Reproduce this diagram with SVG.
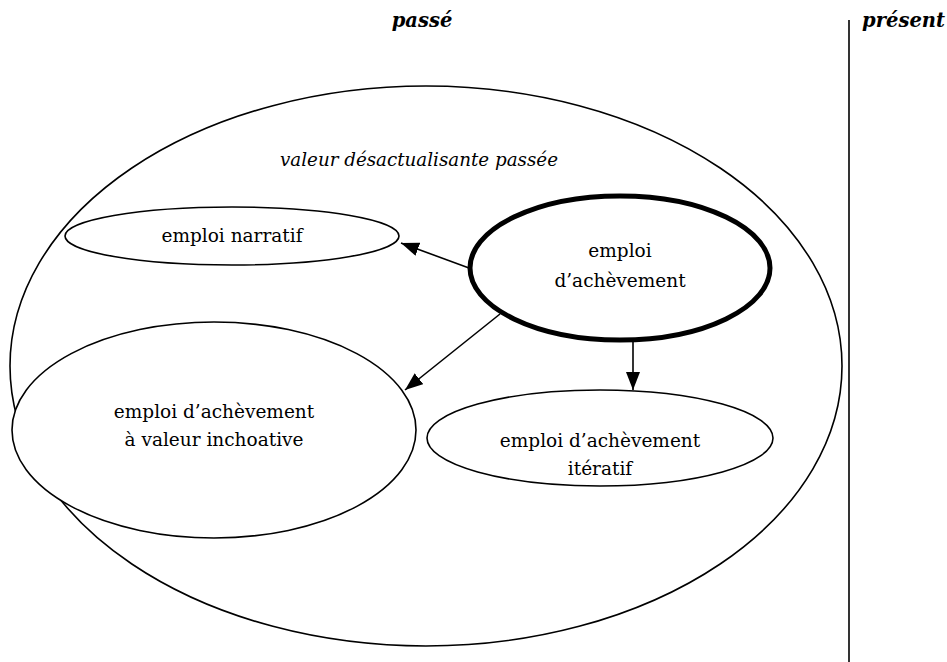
<svg xmlns="http://www.w3.org/2000/svg" width="947" height="662" viewBox="0 0 947 662">
  <style>
    .t { font-family: "DejaVu Serif", "Liberation Serif", serif; font-size: 18.5px; fill: #000; text-anchor: middle; }
    .h { font-weight: bold; font-style: italic; font-size: 19.5px; }
    .i { font-style: italic; font-size: 18.3px; }
    .e { fill: #fff; stroke: #000; stroke-width: 1.6; }
    .thick { stroke-width: 5; }
    .c { stroke: #000; stroke-width: 1.6; fill: none; marker-end: url(#ah); }
  </style>
  <defs>
    <marker id="ah" viewBox="0 0 18 14" refX="18" refY="7" markerWidth="18" markerHeight="14" markerUnits="userSpaceOnUse" orient="auto">
      <path d="M0,0 L18,7 L0,14 z" fill="#000"/>
    </marker>
  </defs>
  <rect width="947" height="662" fill="#fff"/>

  <!-- time axis headings and divider -->
  <text class="t h" x="422" y="27">passé</text>
  <text class="t h" x="945" y="27" style="text-anchor:end">présent</text>
  <line x1="849" y1="20" x2="849" y2="662" stroke="#000" stroke-width="1.6"/>

  <g id="passe">
    <ellipse class="e" cx="426" cy="366" rx="416" ry="280"/>
    <text class="t i" x="419" y="166">valeur désactualisante passée</text>
  </g>

  <g id="narratif">
    <ellipse class="e" cx="232" cy="236" rx="167" ry="29"/>
    <text class="t" x="232" y="242">emploi narratif</text>
  </g>

  <g id="achevement">
    <ellipse class="e thick" cx="620" cy="268" rx="150" ry="72"/>
    <text class="t" x="620" y="257">emploi</text>
    <text class="t" x="620" y="287">d’achèvement</text>
  </g>

  <g id="inchoative">
    <ellipse class="e" cx="214" cy="430" rx="202" ry="108"/>
    <text class="t" x="214" y="418">emploi d’achèvement</text>
    <text class="t" x="214" y="446">à valeur inchoative</text>
  </g>

  <g id="iteratif">
    <ellipse class="e" cx="600" cy="438" rx="173" ry="48"/>
    <text class="t" x="600" y="447">emploi d’achèvement</text>
    <text class="t" x="600" y="475">itératif</text>
  </g>

  <g id="connectors">
    <line class="c" x1="469" y1="268" x2="401" y2="243"/>
    <line class="c" x1="500" y1="314" x2="405" y2="390"/>
    <line class="c" x1="633" y1="341" x2="633" y2="390"/>
  </g>
</svg>
